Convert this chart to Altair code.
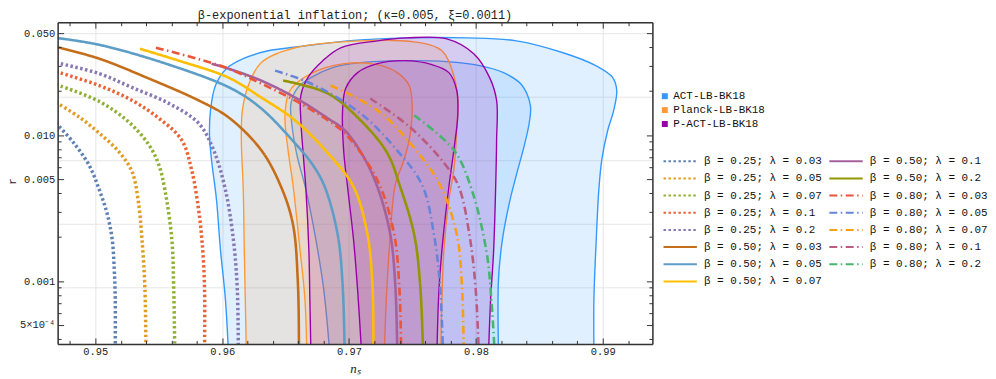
import altair as alt
import pandas as pd

MONO = "Liberation Mono"

# ---------------- axes ----------------
NS_DOMAIN = [0.94703, 0.99391]
R_DOMAIN = [0.000371, 0.0594]
X_MAJOR = [0.95, 0.96, 0.97, 0.98, 0.99]
X_MINOR = [0.948, 0.952, 0.954, 0.956, 0.958, 0.962, 0.964, 0.966, 0.968,
           0.972, 0.974, 0.976, 0.978, 0.982, 0.984, 0.986, 0.988, 0.992]
Y_MAJOR = [0.0005, 0.001, 0.005, 0.01, 0.05]
Y_MINOR = [0.0004, 0.0006, 0.0007, 0.0008, 0.0009, 0.002, 0.003, 0.004,
           0.006, 0.007, 0.008, 0.009, 0.02, 0.03, 0.04]
Y_GRID = [0.049787, 0.018316, 0.0067379, 0.0024788, 0.00091188]

# ---------------- contours ----------------
DATASETS = ["ACT-LB-BK18", "Planck-LB-BK18", "P-ACT-LB-BK18"]
DATASET_COLORS = ["#3399FF", "#FF9933", "#9900AA"]

ACT95_NS = [0.96049, 0.96025, 0.95986, 0.95955, 0.95916, 0.95900, 0.95908, 0.95947, 0.96033,
            0.96166, 0.96362, 0.96597, 0.96988, 0.97458, 0.97928, 0.98319, 0.98687, 0.98945,
            0.99078, 0.99110, 0.99086, 0.99039, 0.98992, 0.98969, 0.98945, 0.98930, 0.98930]
ACT95_R = [0.00033, 0.000755, 0.00165, 0.00361, 0.00676, 0.0100, 0.01479, 0.02188, 0.02856,
           0.03341, 0.03786, 0.04031, 0.04429, 0.04642, 0.04642, 0.04429, 0.03669, 0.02993,
           0.02480, 0.02023, 0.01479, 0.01081, 0.00676, 0.00423, 0.00165, 0.000755, 0.00033]
ACT68_NS = [0.96847, 0.96800, 0.96738, 0.96660, 0.96589, 0.96550, 0.96542, 0.96597, 0.96699,
            0.96871, 0.97090, 0.97435, 0.97771, 0.98029, 0.98217, 0.98358, 0.98429, 0.98421,
            0.98382, 0.98319, 0.98264, 0.98209, 0.98178, 0.98178]
ACT68_R = [0.00033, 0.000882, 0.00193, 0.00423, 0.00731, 0.01169, 0.01651, 0.02120, 0.02480,
           0.02901, 0.03138, 0.03238, 0.03188, 0.02993, 0.02682, 0.02222, 0.01600, 0.01226,
           0.00855, 0.00534, 0.00345, 0.00193, 0.001032, 0.00033]
PL95_NS = [0.96190, 0.96182, 0.96174, 0.96166, 0.96151, 0.96159, 0.96206, 0.96307, 0.96573,
           0.97090, 0.97513, 0.97732, 0.97826, 0.97857, 0.97849, 0.97826, 0.97787, 0.97748,
           0.97732, 0.97724]
PL95_R = [0.00033, 0.000755, 0.00165, 0.00423, 0.00925, 0.01479, 0.02188, 0.03138, 0.03968,
          0.04429, 0.04360, 0.03786, 0.02559, 0.01730, 0.01081, 0.00578, 0.00361, 0.00165,
          0.000755, 0.00033]
PL68_NS = [0.96667, 0.96652, 0.96613, 0.96558, 0.96519, 0.96495, 0.96534, 0.96699, 0.96965,
           0.97223, 0.97380, 0.97474, 0.97497, 0.97474, 0.97419, 0.97364, 0.97317, 0.97294,
           0.97278]
PL68_R = [0.00033, 0.000755, 0.00165, 0.00457, 0.00791, 0.01368, 0.02023, 0.02640, 0.03089,
          0.03041, 0.02682, 0.02188, 0.01600, 0.00925, 0.00625, 0.00457, 0.00165, 0.000755,
          0.00033]
PA95_NS = [0.96699, 0.96691, 0.96683, 0.96660, 0.96636, 0.96620, 0.96620, 0.96675, 0.96793,
           0.96934, 0.97223, 0.97458, 0.97771, 0.97983, 0.98108, 0.98163, 0.98163, 0.98155,
           0.98139, 0.98116, 0.98100]
PA95_R = [0.00033, 0.000755, 0.00165, 0.00423, 0.00791, 0.01265, 0.01871, 0.02480, 0.03238,
          0.03968, 0.04429, 0.04642, 0.04569, 0.03612, 0.02480, 0.01730, 0.00925, 0.00423,
          0.00158, 0.000755, 0.00033]
PA68_NS = [0.97098, 0.97067, 0.97035, 0.96988, 0.96957, 0.96949, 0.96973, 0.97067, 0.97223,
           0.97435, 0.97654, 0.97787, 0.97849, 0.97857, 0.97826, 0.97787, 0.97740, 0.97709,
           0.97693]
PA68_R = [0.00033, 0.000882, 0.00193, 0.00443, 0.00791, 0.01479, 0.02087, 0.02682, 0.03089,
          0.03238, 0.03041, 0.02682, 0.02023, 0.01368, 0.00791, 0.00443, 0.00193, 0.000882,
          0.00033]

# ---------------- model curves ----------------
LABELS = ["β = 0.25; λ = 0.03", "β = 0.25; λ = 0.05", "β = 0.25; λ = 0.07",
          "β = 0.25; λ = 0.1", "β = 0.25; λ = 0.2", "β = 0.50; λ = 0.03",
          "β = 0.50; λ = 0.05", "β = 0.50; λ = 0.07", "β = 0.50; λ = 0.1",
          "β = 0.50; λ = 0.2", "β = 0.80; λ = 0.03", "β = 0.80; λ = 0.05",
          "β = 0.80; λ = 0.07", "β = 0.80; λ = 0.1", "β = 0.80; λ = 0.2"]
LINE_COLORS = ["#5E81B5", "#E19C24", "#8FB032", "#EB6235", "#8778B3",
               "#C56E1A", "#5D9EC7", "#FFBF00", "#A5609D", "#929600",
               "#E95536", "#6685D9", "#F89F13", "#BC5B80", "#47B66D"]
BETAS = [0.25] * 5 + [0.50] * 5 + [0.80] * 5

NS_0 = [0.9469, 0.94836, 0.94953, 0.95031, 0.95094, 0.95133, 0.95149, 0.95157, 0.95157]
R_0 = [0.0121, 0.00871, 0.00617, 0.00423, 0.00288, 0.00193, 0.00121, 0.000755, 0.00033]
NS_1 = [0.9469, 0.94875, 0.95031, 0.95188, 0.95290, 0.95337, 0.95368, 0.95391, 0.95399]
R_1 = [0.01677, 0.01326, 0.01032, 0.00766, 0.00560, 0.00361, 0.00193, 0.000882, 0.00033]
NS_2 = [0.9469, 0.95031, 0.95266, 0.95423, 0.95501, 0.95548, 0.95603, 0.95618, 0.95626]
R_2 = [0.02222, 0.01703, 0.01226, 0.00855, 0.00625, 0.00423, 0.00193, 0.000882, 0.00033]
NS_3 = [0.9469, 0.95031, 0.95290, 0.95501, 0.95681, 0.95759, 0.95814, 0.95846, 0.95861, 0.95861]
R_3 = [0.02725, 0.02188, 0.01730, 0.01305, 0.00925, 0.00578, 0.00309, 0.00165, 0.000882, 0.00033]
NS_4 = [0.9469, 0.95031, 0.95290, 0.95579, 0.95814, 0.95932, 0.96025, 0.96088, 0.96119, 0.96127]
R_4 = [0.03138, 0.02640, 0.02120, 0.01651, 0.01207, 0.00791, 0.00423, 0.00193, 0.000882, 0.00033]
NS_5 = [0.9469, 0.95031, 0.95423, 0.95814, 0.96049, 0.96307, 0.96464, 0.96558, 0.96597, 0.96605]
R_5 = [0.04031, 0.03341, 0.02441, 0.01730, 0.01326, 0.00791, 0.00443, 0.00244, 0.000954, 0.00033]
NS_6 = [0.9469, 0.95031, 0.95556, 0.96072, 0.96307, 0.96573, 0.96714, 0.96808, 0.96910, 0.96949, 0.96965]
R_6 = [0.04642, 0.04159, 0.03089, 0.02087, 0.01526, 0.00882, 0.00625, 0.00443, 0.00209, 0.000954, 0.00033]
NS_7 = [0.95352, 0.95658, 0.96049, 0.96307, 0.96573, 0.96832, 0.97035, 0.97145, 0.97184, 0.97192]
R_7 = [0.03906, 0.03238, 0.02480, 0.01813, 0.01265, 0.00754, 0.00443, 0.00209, 0.000954, 0.00033]
NS_8 = [0.95916, 0.96049, 0.96307, 0.96573, 0.96832, 0.96965, 0.97106, 0.97223, 0.97325, 0.97364, 0.97380]
R_8 = [0.03089, 0.02856, 0.02365, 0.01813, 0.01305, 0.01081, 0.00731, 0.00443, 0.00209, 0.000954, 0.00033]
NS_9 = [0.96480, 0.96832, 0.97090, 0.97301, 0.97403, 0.97513, 0.97560, 0.97583]
R_9 = [0.02365, 0.01931, 0.01265, 0.00754, 0.00443, 0.00209, 0.000954, 0.00033]
NS_10 = [0.95478, 0.95775, 0.96049, 0.96307, 0.96573, 0.96832, 0.96965, 0.97121, 0.97247, 0.97356, 0.97395, 0.97411]
R_10 = [0.03968, 0.03393, 0.02856, 0.02258, 0.01730, 0.01265, 0.01032, 0.00697, 0.00443, 0.00209, 0.000954, 0.00033]
NS_11 = [0.96417, 0.96699, 0.97090, 0.97356, 0.97575, 0.97669, 0.97716, 0.97740]
R_11 = [0.02768, 0.02258, 0.01411, 0.00829, 0.00457, 0.00209, 0.000954, 0.00033]
NS_12 = [0.96855, 0.97223, 0.97481, 0.97716, 0.97849, 0.97889, 0.97904]
R_12 = [0.02188, 0.01479, 0.00882, 0.00457, 0.00209, 0.000954, 0.00033]
NS_13 = [0.97168, 0.97481, 0.97748, 0.97865, 0.97951, 0.97998, 0.98022]
R_13 = [0.01784, 0.01133, 0.00645, 0.00443, 0.00202, 0.000882, 0.00033]
NS_14 = [0.97513, 0.97826, 0.97967, 0.98084, 0.98123, 0.98147]
R_14 = [0.01368, 0.00791, 0.00423, 0.00158, 0.000720, 0.00033]

CURVE_NS = [NS_0, NS_1, NS_2, NS_3, NS_4, NS_5, NS_6, NS_7, NS_8, NS_9, NS_10, NS_11, NS_12, NS_13, NS_14]
CURVE_R = [R_0, R_1, R_2, R_3, R_4, R_5, R_6, R_7, R_8, R_9, R_10, R_11, R_12, R_13, R_14]

DASH = {0.25: [2.5, 2.5], 0.50: [1, 0], 0.80: [8, 3.5, 1.5, 3.5]}
WIDTH = {0.25: 3.5, 0.50: 2.6, 0.80: 2.6}
LINE_DASHES = [DASH[b] for b in BETAS]

# ---------------- build tables ----------------
def poly_df(name, polys):
    rows = []
    for lvl, (ns, r) in polys.items():
        for i, (a, b) in enumerate(zip(ns, r)):
            rows.append({"dataset": name, "level": lvl, "ns": a, "r": b, "i": i})
    return pd.DataFrame(rows)

act_df = poly_df(DATASETS[0], {"95": (ACT95_NS, ACT95_R), "68": (ACT68_NS, ACT68_R)})
pl_df = poly_df(DATASETS[1], {"95": (PL95_NS, PL95_R), "68": (PL68_NS, PL68_R)})
pa_df = poly_df(DATASETS[2], {"95": (PA95_NS, PA95_R), "68": (PA68_NS, PA68_R)})

line_rows = []
for k in range(15):
    for i, (a, b) in enumerate(zip(CURVE_NS[k], CURVE_R[k])):
        line_rows.append({"label": LABELS[k], "beta": BETAS[k], "ns": a, "r": b, "i": i})
lines_df = pd.DataFrame(line_rows)

xscale = alt.Scale(domain=NS_DOMAIN, nice=False, zero=False)
yscale = alt.Scale(type="log", domain=R_DOMAIN, nice=False)

common = dict(labelFont=MONO, labelFontSize=10.5, labelColor="#222",
              tickColor="#333", tickWidth=1, domainColor="#333", domainWidth=1.5)

def tick_axis(orient, values, size, labels=False, domain=False, **kw):
    d = dict(common)
    d.update(kw)
    return alt.Axis(orient=orient, values=values, tickSize={"expr": str(-size)},
                    labels=labels, domain=domain, grid=False, zindex=1, **d)

x_bottom_major = tick_axis("bottom", X_MAJOR, 6, labels=True, domain=True, format=".2f",
                           labelPadding=9, title="nₛ", titleFont="Liberation Serif",
                           titleFontStyle="italic", titleFontWeight="normal",
                           titleFontSize=13, titleColor="#222", titlePadding=5)
x_bottom_minor = tick_axis("bottom", X_MINOR, 3.5, title=None)
x_top_major = tick_axis("top", X_MAJOR, 6, domain=True, title=None)
x_top_minor = tick_axis("top", X_MINOR, 3.5, title=None)
x_grid = alt.Axis(orient="bottom", values=X_MAJOR, grid=True, gridColor="#e6e6e6",
                  gridWidth=1, ticks=False, labels=False, domain=False, title=None, zindex=0)

y_left_major = tick_axis("left", Y_MAJOR, 6, labels=True, domain=True, labelPadding=9,
                         labelExpr="datum.value < 0.0007 ? '5×10⁻⁴' : format(datum.value, '.3f')",
                         title="r", titleFont=MONO, titleFontWeight="normal",
                         titleFontSize=11, titleColor="#222", titleX=-40, titleY=160)
y_left_minor = tick_axis("left", Y_MINOR, 3.5, title=None)
y_right_major = tick_axis("right", Y_MAJOR, 6, domain=True, title=None)
y_right_minor = tick_axis("right", Y_MINOR, 3.5, title=None)
y_grid = alt.Axis(orient="left", values=Y_GRID, grid=True, gridColor="#e6e6e6",
                  gridWidth=1, ticks=False, labels=False, domain=False, title=None, zindex=0)

legend_sets = alt.Legend(title=None, orient="none", legendX=606, legendY=69,
                         symbolType="square", symbolSize=36, symbolStrokeWidth=0,
                         symbolOpacity=1, labelFont=MONO, labelFontSize=11,
                         labelColor="#111", rowPadding=2, labelOffset=3, padding=0)
legend_lines = alt.Legend(title=None, orient="none", legendX=620, legendY=133, columns=2,
                          symbolType="M-2.8,0H2.8", symbolSize=144, symbolStrokeWidth=2,
                          labelFont=MONO, labelFontSize=11, labelColor="#111",
                          rowPadding=5.3, columnPadding=3, labelOffset=17, padding=0)

fill_scale = alt.Scale(domain=DATASETS, range=DATASET_COLORS)

def contour_layer(df, stroke, xaxis, yaxis):
    return alt.Chart(df).mark_line(stroke=stroke, strokeWidth=1.4, fillOpacity=0.15,
                                   interpolate="catmull-rom", clip=True).encode(
        x=alt.X("ns:Q", scale=xscale, axis=xaxis),
        y=alt.Y("r:Q", scale=yscale, axis=yaxis),
        fill=alt.Fill("dataset:N", scale=fill_scale, legend=legend_sets),
        detail="level:N",
        order="i:Q",
    )

color_scale = alt.Scale(domain=LABELS, range=LINE_COLORS)
dash_scale = alt.Scale(domain=LABELS, range=LINE_DASHES)

def line_layer(beta, xaxis, yaxis):
    df = lines_df[lines_df["beta"] == beta]
    return alt.Chart(df).mark_line(strokeWidth=WIDTH[beta], interpolate="catmull-rom",
                                   clip=True).encode(
        x=alt.X("ns:Q", scale=xscale, axis=xaxis),
        y=alt.Y("r:Q", scale=yscale, axis=yaxis),
        color=alt.Color("label:N", scale=color_scale, legend=legend_lines),
        strokeDash=alt.StrokeDash("label:N", scale=dash_scale, legend=legend_lines),
        order="i:Q",
    )

chart = alt.layer(
    contour_layer(act_df, DATASET_COLORS[0], x_bottom_major, y_left_major),
    contour_layer(pl_df, DATASET_COLORS[1], x_bottom_minor, y_left_minor),
    contour_layer(pa_df, DATASET_COLORS[2], x_top_major, y_right_major),
    line_layer(0.25, x_top_minor, y_right_minor),
    line_layer(0.50, x_grid, y_grid),
    line_layer(0.80, None, None),
).resolve_axis(x="independent", y="independent").properties(
    width=599, height=324,
    title=alt.TitleParams("β-exponential inflation; (κ=0.005, ξ=0.0011)", font=MONO,
                          fontSize=12, fontWeight="normal", color="#222",
                          anchor="middle", frame="group", offset=0),
    autosize=alt.AutoSizeParams(type="none"),
    padding={"left": 50, "top": 13, "right": 338, "bottom": 34},
).configure_view(stroke=None).configure(background="white")

chart.save("out.html", embed_options={"renderer": "svg", "actions": False})
